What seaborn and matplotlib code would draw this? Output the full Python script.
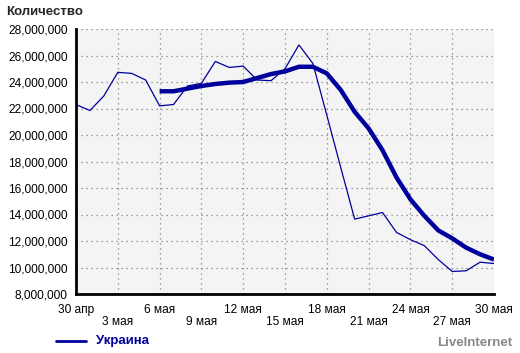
import pandas as pd
import matplotlib.pyplot as plt
import matplotlib.ticker as mticker
import seaborn as sns

# дни с 30 апр (0) по 30 мая (30)
days = list(range(31))
daily = [22.3, 21.85, 22.95, 24.73, 24.65, 24.15, 22.2, 22.3, 23.7, 23.9,
         25.55, 25.1, 25.2, 24.15, 24.1, 25.0, 26.8, 25.4, 21.5, 17.55,
         13.65, 13.9, 14.15, 12.65, 12.1, 11.65, 10.6, 9.7, 9.75, 10.4, 10.3]
avg_days = list(range(6, 31))
weekly = [23.3, 23.3, 23.5, 23.7, 23.85, 23.95, 24.0, 24.3, 24.6, 24.8,
          25.15, 25.15, 24.65, 23.4, 21.75, 20.5, 18.85, 16.8, 15.15, 13.9,
          12.8, 12.2, 11.5, 11.0, 10.6]
tick_days = list(range(0, 31, 3))
tick_labels = ['30 апр', '3 мая', '6 мая', '9 мая', '12 мая', '15 мая',
               '18 мая', '21 мая', '24 мая', '27 мая', '30 мая']
y_ticks = [8, 10, 12, 14, 16, 18, 20, 22, 24, 26, 28]

LINE = '#00009c'

df_day = pd.DataFrame({'day': days, 'value': [v * 1e6 for v in daily]})
df_avg = pd.DataFrame({'day': avg_days, 'value': [v * 1e6 for v in weekly]})

sns.set_style('white')
plt.rcParams['font.family'] = ['Liberation Sans', 'DejaVu Sans']

fig = plt.figure(figsize=(5.2, 3.53), dpi=100)
ax = fig.add_axes([76 / 520, 1 - 294 / 353, 418 / 520, 265 / 353])
ax.set_facecolor('#f4f4f4')

sns.lineplot(data=df_day, x='day', y='value', color=LINE, linewidth=0.9,
             estimator=None, errorbar=None, solid_joinstyle='miter', ax=ax)
sns.lineplot(data=df_avg, x='day', y='value', color=LINE, linewidth=3.2,
             estimator=None, errorbar=None, solid_joinstyle='miter',
             solid_capstyle='butt', ax=ax)

ax.set_xlim(0, 30)
ax.set_ylim(8e6, 28e6)
ax.set_yticks([v * 1e6 for v in y_ticks])
ax.yaxis.set_major_formatter(mticker.StrMethodFormatter('{x:,.0f}'))
ax.set_xticks(tick_days)
ax.set_xticklabels([lab if i % 2 == 0 else '\n' + lab for i, lab in enumerate(tick_labels)])
ax.set_xlabel('')
ax.set_ylabel('')

ax.grid(True, linestyle=(0, (1, 3)), color='#808080', linewidth=0.9)
ax.set_axisbelow(True)
for s in ['top', 'right']:
    ax.spines[s].set_visible(False)
for s in ['left', 'bottom']:
    ax.spines[s].set_linewidth(2)
    ax.spines[s].set_color('black')
ax.tick_params(axis='both', direction='out', length=4, width=1, colors='black',
               labelsize=8.6, pad=2)
ax.tick_params(axis='x', pad=3)
for lab in ax.get_xticklabels():
    lab.set_linespacing(1.0)

fig.text(6 / 520, 1 - 12 / 353, 'Количество', fontsize=9.5, fontweight='bold',
         va='center', ha='left')

fig.lines.append(plt.Line2D([56 / 520, 86 / 520], [1 - 341 / 353] * 2,
                            transform=fig.transFigure, color=LINE, linewidth=2))
fig.text(96 / 520, 1 - 341 / 353, 'Украина', fontsize=9.5, fontweight='bold',
         color=LINE, va='center', ha='left')
fig.text(512 / 520, 1 - 343 / 353, 'LiveInternet', fontsize=9.5, fontweight='bold',
         color='#888888', va='center', ha='right')

fig.savefig('out.png', dpi=100)
